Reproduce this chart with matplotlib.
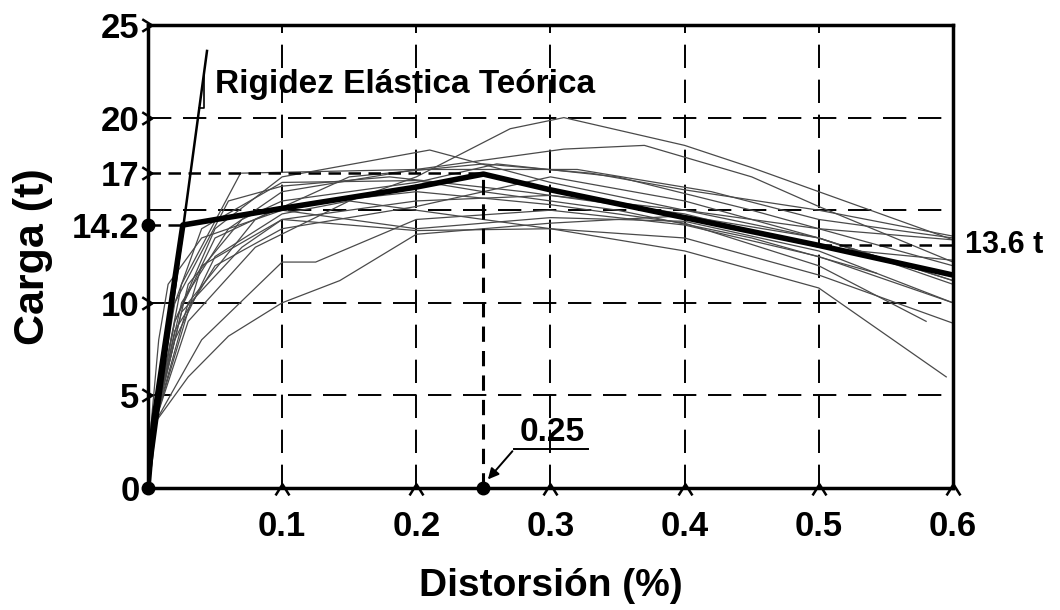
import numpy as np
import matplotlib
matplotlib.use("Agg")
import matplotlib.pyplot as plt
from matplotlib.path import Path

plt.rcParams['font.family'] = ['Liberation Sans Narrow', 'Liberation Sans', 'DejaVu Sans']
plt.rcParams['font.weight'] = 'bold'

# Ensayos individuales (distorsion %, carga t)
test_x = [
    [0, 0.005, 0.03, 0.08, 0.15, 0.2, 0.27, 0.31, 0.4, 0.45, 0.5, 0.6],
    [0, 0.005, 0.025, 0.06, 0.1, 0.2, 0.31, 0.37, 0.45, 0.5, 0.6],
    [0, 0.005, 0.02, 0.05, 0.1, 0.21, 0.3, 0.4, 0.5, 0.6],
    [0, 0.005, 0.025, 0.069, 0.2, 0.32, 0.42, 0.5, 0.6],
    [0, 0.005, 0.03, 0.07, 0.1, 0.2, 0.26, 0.35, 0.45, 0.6],
    [0, 0.005, 0.04, 0.1, 0.2, 0.3, 0.4, 0.5, 0.6],
    [0, 0.005, 0.03, 0.06, 0.1, 0.143, 0.2, 0.3, 0.4, 0.5, 0.6],
    [0, 0.005, 0.04, 0.1, 0.125, 0.2, 0.3, 0.4, 0.5, 0.6],
    [0, 0.005, 0.02, 0.05, 0.1, 0.15, 0.2, 0.3, 0.4, 0.5, 0.595],
    [0, 0.005, 0.02, 0.05, 0.1, 0.2, 0.3, 0.4, 0.5, 0.58],
    [0, 0.005, 0.015, 0.04, 0.1, 0.2, 0.25, 0.35, 0.45, 0.543],
    [0, 0.005, 0.02, 0.05, 0.1, 0.2, 0.3, 0.4, 0.5, 0.6],
    [0, 0.005, 0.03, 0.08, 0.15, 0.25, 0.33, 0.4, 0.5, 0.6],
    [0, 0.005, 0.025, 0.07, 0.1, 0.2, 0.3, 0.4, 0.5, 0.6],
    [0, 0.003, 0.008, 0.015, 0.04, 0.1, 0.2, 0.3, 0.4, 0.5, 0.6],
    [0, 0.005, 0.02, 0.06, 0.1, 0.18, 0.28, 0.4, 0.5, 0.6],
]
test_y = [
    [0, 3.5, 9, 13, 15.5, 16.8, 19.4, 20.0, 18.5, 17.3, 16.0, 13.4],
    [0, 3.5, 10, 14, 16, 17.2, 18.3, 18.5, 16.8, 15.2, 12.2],
    [0, 3.5, 9, 14, 16.8, 18.25, 16.5, 15.0, 13.5, 11.2],
    [0, 3.5, 11, 17.0, 17.2, 17.2, 16.0, 14.5, 13.5],
    [0, 3.5, 11, 14.5, 15.5, 16.5, 17.5, 16.8, 15.0, 12.0],
    [0, 3.5, 12, 14.5, 15.5, 15.8, 15.0, 14.0, 13.4],
    [0, 3.5, 6, 8.2, 10, 11.2, 13.7, 14.3, 14.7, 13.5, 11.0],
    [0, 3.5, 8, 12.2, 12.2, 14.5, 15.0, 14.2, 12.5, 10.0],
    [0, 3.5, 8, 12.5, 14.8, 15.5, 15.0, 14.0, 12.8, 10.8, 6.0],
    [0, 3.5, 9, 13.5, 15.2, 16.0, 15.3, 14.3, 12.0, 9.0],
    [0, 3.5, 9, 14, 16.5, 16.6, 16.0, 15.0, 13.5, 11.6],
    [0, 3.5, 8.5, 12, 14, 15.2, 16.8, 15.5, 13.5, 11.2],
    [0, 3.5, 10, 14.5, 16.8, 17.5, 17.0, 16.1, 15.0, 13.6],
    [0, 3.5, 9.5, 13, 14.5, 13.9, 14.0, 13.5, 11.5, 8.9],
    [0, 4, 8, 11, 13.5, 15.0, 14.0, 14.6, 14.4, 12.8, 10.0],
    [0, 3.5, 10, 15.5, 16.3, 16.8, 16.0, 14.8, 13.0, 12.3],
]

# Curva promedio (envolvente)
avg_x = [0, 0.004, 0.026, 0.1, 0.2, 0.25, 0.3, 0.4, 0.5, 0.6]
avg_y = [0, 3.5, 14.2, 15.1, 16.25, 16.95, 16.1, 14.6, 13.1, 11.5]

# Rigidez elastica teorica
rig_x = [0, 0.044]
rig_y = [0, 23.6]

y_ticks = [0, 5, 10, 14.2, 17, 20, 25]
y_labels = ['0', '5', '10', '14.2', '17', '20', '25']
x_ticks = [0.1, 0.2, 0.3, 0.4, 0.5, 0.6]
x_labels = ['0.1', '0.2', '0.3', '0.4', '0.5', '0.6']
grid_y = [5, 10, 15, 20]
grid_x = [0.1, 0.2, 0.3, 0.4, 0.5]

x_peak, y_peak = 0.25, 17
y_yield = 14.2
y_final = 13.1

fig = plt.figure(figsize=(10.6, 6.1), dpi=100)
ax = fig.add_axes([0.1396, 0.2, 0.7594, 0.759])
ax.set_xlim(0, 0.6)
ax.set_ylim(0, 25)

# rejilla
for gy in grid_y:
    ax.axhline(gy, color='black', lw=1.4, dashes=(12, 6), zorder=1)
for gx in grid_x:
    ax.axvline(gx, color='black', lw=1.4, dashes=(12, 6), zorder=1)

for xs, ys in zip(test_x, test_y):
    ax.plot(xs, ys, color='#4a4a4a', lw=0.9, zorder=2)

# lineas de referencia
ax.plot([0, x_peak], [y_peak, y_peak], color='black', lw=1.8, dashes=(5, 3), zorder=3)
ax.plot([x_peak, x_peak], [0, y_peak], color='black', lw=2.2, dashes=(5, 3), zorder=3)
ax.plot([0, avg_x[2]], [y_yield, y_yield], color='black', lw=1.8, dashes=(5, 3), zorder=3)
ax.plot([0.5, 0.6], [y_final, y_final], color='black', lw=1.8, dashes=(5, 3), zorder=3)

ax.plot(avg_x, avg_y, color='black', lw=4, solid_joinstyle='round', zorder=4)
ax.plot(rig_x, rig_y, color='black', lw=1.8, zorder=4)

# triangulo de pendiente
slope = rig_y[1] / rig_x[1]
ty0, ty1 = 20.5, 22.4
ax.plot([ty0 / slope, ty1 / slope, ty1 / slope], [ty0, ty0, ty1], color='black', lw=1.2, zorder=4)

ax.text(0.05, 21.8, 'Rigidez Elástica Teórica', fontsize=24, fontweight='bold', va='center', ha='left')
ax.text(0.609, y_final, '13.6 t', fontsize=22, fontweight='bold', va='center', ha='left', clip_on=False)

# puntos
ax.plot([0, 0, x_peak], [0, y_yield, 0], 'o', color='black', ms=9, clip_on=False, zorder=6)

# anotacion 0.25
ax.text(0.301, 3.0, '0.25', fontsize=24, fontweight='bold', ha='center', va='center')
ax.plot([0.273, 0.328], [2.1, 2.1], color='black', lw=1.4)
ax.annotate('', xy=(0.252, 0.35), xytext=(0.273, 2.1),
            arrowprops=dict(arrowstyle='-|>', color='black', lw=1.4, mutation_scale=16))

# marcas de ejes
caret_up = Path([(-1, -1), (0, 0.6), (1, -1)], [Path.MOVETO, Path.LINETO, Path.LINETO])
caret_right = Path([(-1, 1), (0.6, 0), (-1, -1)], [Path.MOVETO, Path.LINETO, Path.LINETO])
ax.plot(x_ticks, [0] * len(x_ticks), linestyle='none', marker=caret_up, ms=10,
        mfc='none', mec='black', mew=1.8, clip_on=False, zorder=5)
ax.plot([0] * 5, [5, 10, 17, 20, 25], linestyle='none', marker=caret_right, ms=9,
        mfc='none', mec='black', mew=1.8, clip_on=False, zorder=5)

ax.set_xticks(x_ticks)
ax.set_xticklabels(x_labels)
ax.set_yticks(y_ticks)
ax.set_yticklabels(y_labels)
ax.tick_params(length=0, labelsize=25)
ax.tick_params(axis='x', pad=16)
ax.tick_params(axis='y', pad=6)
for lab in ax.get_xticklabels() + ax.get_yticklabels():
    lab.set_fontweight('bold')

for sp in ax.spines.values():
    sp.set_linewidth(2.5)

ax.set_xlabel('Distorsión (%)', fontsize=28, fontweight='bold', labelpad=18)
ax.set_ylabel('Carga (t)', fontsize=31, fontweight='bold', labelpad=14)

fig.savefig('out.png', dpi=100)
